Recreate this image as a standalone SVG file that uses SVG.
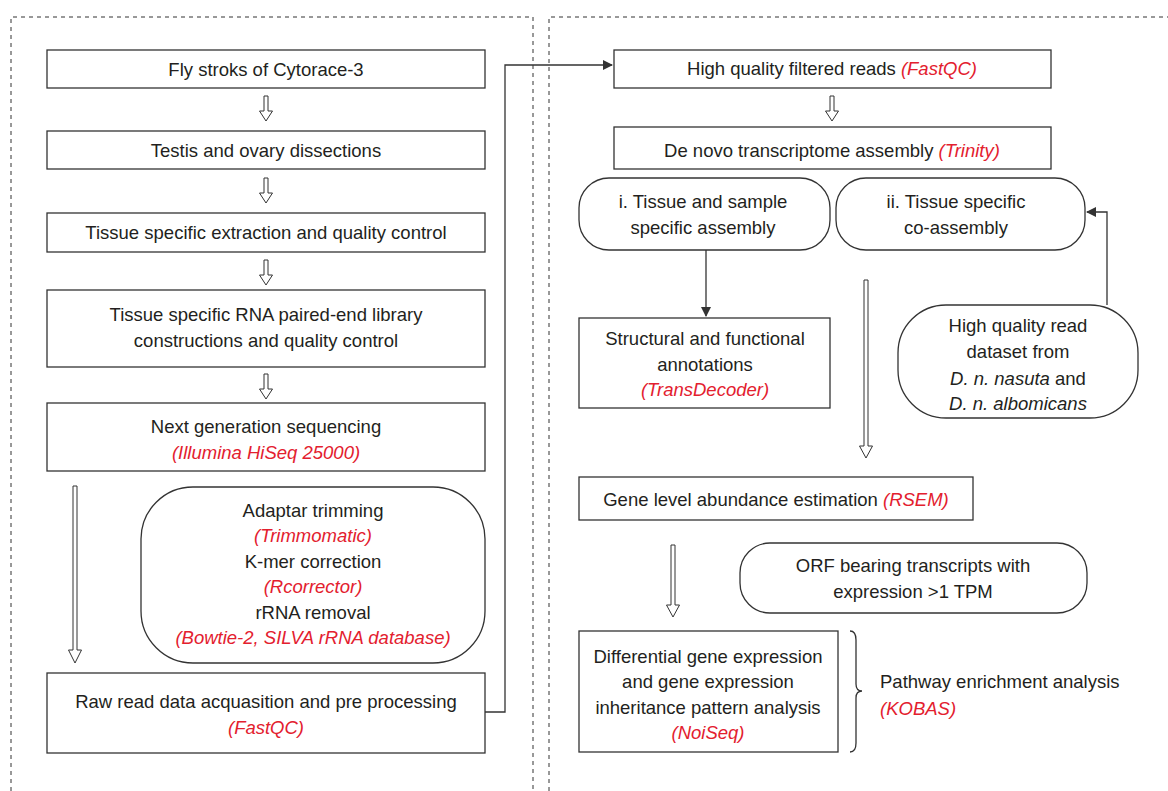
<svg xmlns="http://www.w3.org/2000/svg" width="1168" height="791" viewBox="0 0 1168 791">
<style>
.bx{fill:#fff;stroke:#333;stroke-width:1.3}
.pn{fill:none;stroke:#333;stroke-width:1;stroke-dasharray:4 4}
.ha{fill:#fff;stroke:#333;stroke-width:1}
.ln{fill:none;stroke:#333;stroke-width:1.3}
text{font-family:"Liberation Sans",Arial,sans-serif;font-size:18.5px;fill:#231f20;text-anchor:middle}
.r{fill:#e3202e;font-style:italic}
.i{font-style:italic}
.l{text-anchor:start}
</style>
<defs>
<marker id="ah" markerWidth="10" markerHeight="10" refX="9" refY="5" orient="auto" markerUnits="userSpaceOnUse">
<path d="M0,0 L10,5 L0,10 Z" fill="#333"/>
</marker>
</defs>
<g id="panels">
<path class="pn" d="M11,791 V17 H533 V791"/>
<path class="pn" d="M549,791 V17 H1168"/>
</g>
<g id="connectors">
<path class="ln" d="M485,712 H505 V65 H612" marker-end="url(#ah)"/>
<path class="ln" d="M706,250 V316" marker-end="url(#ah)"/>
<path class="ln" d="M1107,305 V212 H1087" marker-end="url(#ah)"/>
<path class="ha" d="M264,96 H268 V111 H272.5 L266,121 L259.5,111 H264 Z"/>
<path class="ha" d="M264,178 H268 V193 H272.5 L266,203 L259.5,193 H264 Z"/>
<path class="ha" d="M264,260 H268 V275 H272.5 L266,285 L259.5,275 H264 Z"/>
<path class="ha" d="M264,374 H268 V389 H272.5 L266,399 L259.5,389 H264 Z"/>
<path class="ha" d="M73,486 H77 V650 H81.5 L75,663 L68.5,650 H73 Z"/>
<path class="ha" d="M830,96 H834 V111 H838.5 L832,121 L825.5,111 H830 Z"/>
<path class="ha" d="M864,280 H868 V446 H872.5 L866,458 L859.5,446 H864 Z"/>
<path class="ha" d="M671,545 H675 V605 H679.5 L673,617 L666.5,605 H671 Z"/>
<path class="ln" d="M850,631 Q856,631 856,640 V684 Q856,691 862,691 Q856,691 856,698 V743 Q856,752 850,752" stroke-width="1"/>
</g>
<g id="n1"><rect class="bx" x="47" y="50" width="438" height="38"/><text x="266" y="76">Fly stroks of Cytorace-3</text></g>
<g id="n2"><rect class="bx" x="47" y="131" width="438" height="38"/><text x="266" y="157">Testis and ovary dissections</text></g>
<g id="n3"><rect class="bx" x="47" y="213" width="438" height="39"/><text x="266" y="239">Tissue specific extraction and quality control</text></g>
<g id="n4"><rect class="bx" x="47" y="290" width="438" height="77"/><text x="266" y="321">Tissue specific RNA paired-end library</text><text x="266" y="347">constructions and quality control</text></g>
<g id="n5"><rect class="bx" x="47" y="403" width="438" height="68"/><text x="266" y="433">Next generation sequencing</text><text class="r" x="266" y="459">(Illumina HiSeq 25000)</text></g>
<g id="n6"><rect class="bx" x="141" y="487" width="344" height="176" rx="52"/>
<text x="313" y="517">Adaptar trimming</text><text class="r" x="313" y="542">(Trimmomatic)</text>
<text x="313" y="568">K-mer correction</text><text class="r" x="313" y="593">(Rcorrector)</text>
<text x="313" y="619">rRNA removal</text><text class="r" x="313" y="644">(Bowtie-2, SILVA rRNA database)</text></g>
<g id="n7"><rect class="bx" x="47" y="673" width="438" height="80"/><text x="266" y="708">Raw read data acquasition and pre processing</text><text class="r" x="266" y="734">(FastQC)</text></g>
<g id="r1"><rect class="bx" x="614" y="50" width="437" height="38"/><text x="832" y="75">High quality filtered reads <tspan class="r">(FastQC)</tspan></text></g>
<g id="r2"><rect class="bx" x="614" y="127" width="437" height="42"/><text x="832" y="157">De novo transcriptome assembly <tspan class="r">(Trinity)</tspan></text></g>
<g id="r3"><rect class="bx" x="579" y="178" width="251" height="72" rx="30"/><text x="703" y="208">i. Tissue and sample</text><text x="703" y="234">specific assembly</text></g>
<g id="r4"><rect class="bx" x="836" y="178" width="249" height="72" rx="30"/><text x="956" y="208">ii. Tissue specific</text><text x="956" y="234">co-assembly</text></g>
<g id="r5"><rect class="bx" x="579" y="318" width="251" height="90"/><text x="705" y="345">Structural and functional</text><text x="705" y="371">annotations</text><text class="r" x="705" y="396">(TransDecoder)</text></g>
<g id="r6"><rect class="bx" x="898" y="305" width="240" height="113" rx="48"/><text x="1018" y="332">High quality read</text><text x="1018" y="358">dataset from</text><text x="1018" y="385"><tspan class="i">D. n. nasuta</tspan> and</text><text class="i" x="1018" y="410">D. n. albomicans</text></g>
<g id="r7"><rect class="bx" x="579" y="477" width="394" height="43"/><text x="776" y="506">Gene level abundance estimation <tspan class="r">(RSEM)</tspan></text></g>
<g id="r8"><rect class="bx" x="740" y="543" width="347" height="70" rx="30"/><text x="913" y="572">ORF bearing transcripts with</text><text x="913" y="598">expression &gt;1 TPM</text></g>
<g id="r9"><rect class="bx" x="579" y="631" width="259" height="121"/><text x="708" y="663">Differential gene expression</text><text x="708" y="688">and gene expression</text><text x="708" y="714">inheritance pattern analysis</text><text class="r" x="708" y="739">(NoiSeq)</text></g>
<g id="r10"><text class="l" x="880" y="688">Pathway enrichment analysis</text><text class="l r" x="880" y="715">(KOBAS)</text></g>
</svg>
